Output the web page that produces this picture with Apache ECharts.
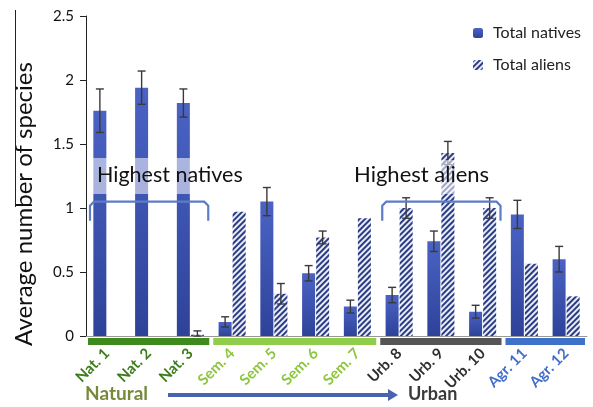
<!DOCTYPE html>
<html>
<head>
<meta charset="utf-8">
<title></title>
<script src="https://cdn.jsdelivr.net/npm/echarts@6/dist/echarts.min.js"></script>
<style>
*{ padding:0; margin:0; }
#chart{ width:593px; height:407px; background:#fff; }
</style>
</head>
<body>
<div id="chart"></div>
<script>
// data
var sites = ['Nat. 1','Nat. 2','Nat. 3','Sem. 4','Sem. 5','Sem. 6','Sem. 7','Urb. 8','Urb. 9','Urb. 10','Agr. 11','Agr. 12'];
var natives    = [1.76, 1.94, 1.82, 0.11, 1.05, 0.49, 0.23, 0.32, 0.74, 0.19, 0.95, 0.60];
var nativesErr = [0.17, 0.13, 0.11, 0.04, 0.11, 0.06, 0.05, 0.06, 0.08, 0.05, 0.11, 0.10];
var aliens     = [0, 0, 0.01, 0.97, 0.33, 0.77, 0.92, 1.00, 1.43, 1.00, 0.565, 0.31];
var aliensErr  = [0, 0, 0.03, 0, 0.08, 0.05, 0, 0.08, 0.09, 0.08, 0, 0];
var yTicks = [0, 0.5, 1, 1.5, 2, 2.5];

// site groups under the axis
var groups = [
    { from: 0, to: 2,  color: '#3f8a1c', labelColor: '#3b7d1a' },
    { from: 3, to: 6,  color: '#8fcd4a', labelColor: '#8cc63f' },
    { from: 7, to: 9,  color: '#555555', labelColor: '#2f2f2f' },
    { from: 10, to: 11, color: '#3d72c8', labelColor: '#3f6dc8' }
];

function groupOf(i) {
    for (var g = 0; g < groups.length; g++) {
        if (i >= groups[g].from && i <= groups[g].to) return groups[g];
    }
    return groups[0];
}

var FONT = 'Lato';
var BAR_W = 13;
var OFFSET = 7;

var chart = echarts.init(document.getElementById('chart'));

function errData(vals, errs) {
    var out = [];
    for (var i = 0; i < vals.length; i++) {
        if (errs[i] > 0) out.push([i, vals[i], errs[i]]);
    }
    return out;
}

function errRender(dx) {
    return function (params, api) {
        var i = api.value(0), v = api.value(1), e = api.value(2);
        var hi = api.coord([i, v + e]);
        var lo = api.coord([i, Math.max(v - e, 0)]);
        var x = hi[0] + dx;
        var s = { stroke: '#3a3a3a', lineWidth: 1.4 };
        return {
            type: 'group',
            children: [
                { type: 'line', shape: { x1: x, y1: hi[1], x2: x, y2: lo[1] }, style: s },
                { type: 'line', shape: { x1: x - 4, y1: hi[1], x2: x + 4, y2: hi[1] }, style: s },
                { type: 'line', shape: { x1: x - 4, y1: lo[1], x2: x + 4, y2: lo[1] }, style: s }
            ]
        };
    };
}

var option = {
    animation: false,
    textStyle: { fontFamily: FONT },
    grid: { left: 86, right: 6, top: 16, bottom: 71 },
    legend: {
        orient: 'vertical',
        left: 468,
        top: 20,
        itemWidth: 10,
        itemHeight: 10,
        itemGap: 16,
        textStyle: { fontSize: 16, color: '#222', fontFamily: FONT, padding: [0, 0, 0, 5] },
        data: ['Total natives', 'Total aliens']
    },
    xAxis: {
        type: 'category',
        data: sites,
        axisLine: { lineStyle: { color: '#999', width: 1 } },
        axisTick: { show: false },
        axisLabel: {
            rotate: 45,
            interval: 0,
            margin: 15,
            fontSize: 15,
            fontWeight: 'bold',
            fontFamily: FONT,
            color: function (value, index) { return groupOf(index).labelColor; }
        }
    },
    yAxis: {
        type: 'value',
        min: 0,
        max: 2.5,
        interval: 0.5,
        name: 'Average number of species',
        nameLocation: 'middle',
        nameGap: 50,
        nameTextStyle: { fontSize: 24, color: '#111', fontFamily: FONT, padding: [0, 56, 0, 0] },
        splitLine: { show: false },
        axisLine: { show: true, lineStyle: { color: '#222', width: 1 } },
        axisTick: { show: true, length: 6, lineStyle: { color: '#222' } },
        axisLabel: {
            fontSize: 15, color: '#111', margin: 12, fontFamily: FONT,
            formatter: function (v) { return yTicks.indexOf(v) >= 0 ? String(v) : ''; }
        }
    },
    series: [
        {
            name: 'Total natives',
            type: 'bar',
            barWidth: BAR_W,
            barGap: '8%',
            itemStyle: {
                color: new echarts.graphic.LinearGradient(0, 0, 0, 1, [
                    { offset: 0, color: '#4a63c4' },
                    { offset: 1, color: '#2e4299' }
                ])
            },
            data: natives
        },
        {
            name: 'Total aliens',
            type: 'bar',
            barWidth: BAR_W,
            itemStyle: {
                color: '#e9edf7',
                decal: {
                    symbol: 'rect',
                    color: '#2b3c84',
                    dashArrayX: [1, 0],
                    dashArrayY: [2, 2],
                    rotation: -Math.PI / 4
                }
            },
            data: aliens
        },
        {
            type: 'custom',
            renderItem: errRender(-OFFSET),
            encode: { x: 0, y: 1 },
            z: 5,
            silent: true,
            data: errData(natives, nativesErr)
        },
        {
            type: 'custom',
            renderItem: errRender(OFFSET),
            encode: { x: 0, y: 1 },
            z: 5,
            silent: true,
            data: errData(aliens, aliensErr)
        }
    ]
};
chart.setOption(option);

// annotations placed from the axes
function px(cat, val) { return chart.convertToPixel({ xAxisIndex: 0, yAxisIndex: 0 }, [cat, val]); }
var half = px(1, 0)[0] - px(0, 0)[0];
half = half / 2;

function bracket(fromCat, toCat) {
    var l = px(fromCat, 1.05)[0] - half + 4;
    var r = px(toCat, 1.05)[0] + half - 3;
    var top = px(0, 1.05)[1];
    var bot = px(0, 0.9)[1];
    return {
        type: 'polyline',
        z: 20,
        shape: { points: [[l, bot], [l, top + 4], [l + 4, top], [r - 4, top], [r, top + 4], [r, bot]] },
        style: { stroke: '#5d7cc6', lineWidth: 2.2, fill: null }
    };
}

var zeroY = px(0, 0)[1];
var graphics = [];
groups.forEach(function (g) {
    var l = px(g.from, 0)[0] - half;
    var r = px(g.to, 0)[0] + half;
    graphics.push({
        type: 'rect', z: 10,
        shape: { x: l + 2, y: zeroY + 2, width: r - l - 4, height: 7 },
        style: { fill: g.color }
    });
});

graphics.push(
    {
        type: 'rect', z: 15,
        shape: { x: 88, y: 158, width: 162, height: 36 },
        style: { fill: 'rgba(255,255,255,0.55)' }
    },
    {
        type: 'text', z: 21, left: 97, top: 164,
        style: { text: 'Highest natives', font: '21.5px ' + FONT, fill: '#111' }
    },
    bracket(0, 2),
    {
        type: 'rect', z: 15,
        shape: { x: 350, y: 160, width: 142, height: 34 },
        style: { fill: 'rgba(255,255,255,0.55)' }
    },
    {
        type: 'text', z: 21, left: 354, top: 164,
        style: { text: 'Highest aliens', font: '22px ' + FONT, fill: '#111' }
    },
    bracket(7, 9),
    {
        type: 'text', z: 21, left: 85, top: 384,
        style: { text: 'Natural', font: 'bold 19px ' + FONT, fill: '#76893a' }
    },
    {
        type: 'line', z: 21,
        shape: { x1: 168, y1: 395, x2: 390, y2: 395 },
        style: { stroke: '#4a63b0', lineWidth: 4 }
    },
    {
        type: 'polygon', z: 21,
        shape: { points: [[388, 389], [398, 395], [388, 401]] },
        style: { fill: '#4a63b0' }
    },
    {
        type: 'text', z: 21, left: 408, top: 385,
        style: { text: 'Urban', font: 'bold 18px ' + FONT, fill: '#3a3a3a' }
    },
    {
        type: 'line', z: 21,
        shape: { x1: 15.5, y1: 10, x2: 15.5, y2: 207 },
        style: { stroke: '#222', lineWidth: 1 }
    }
);
chart.setOption({ graphic: graphics });
</script>
</body>
</html>
